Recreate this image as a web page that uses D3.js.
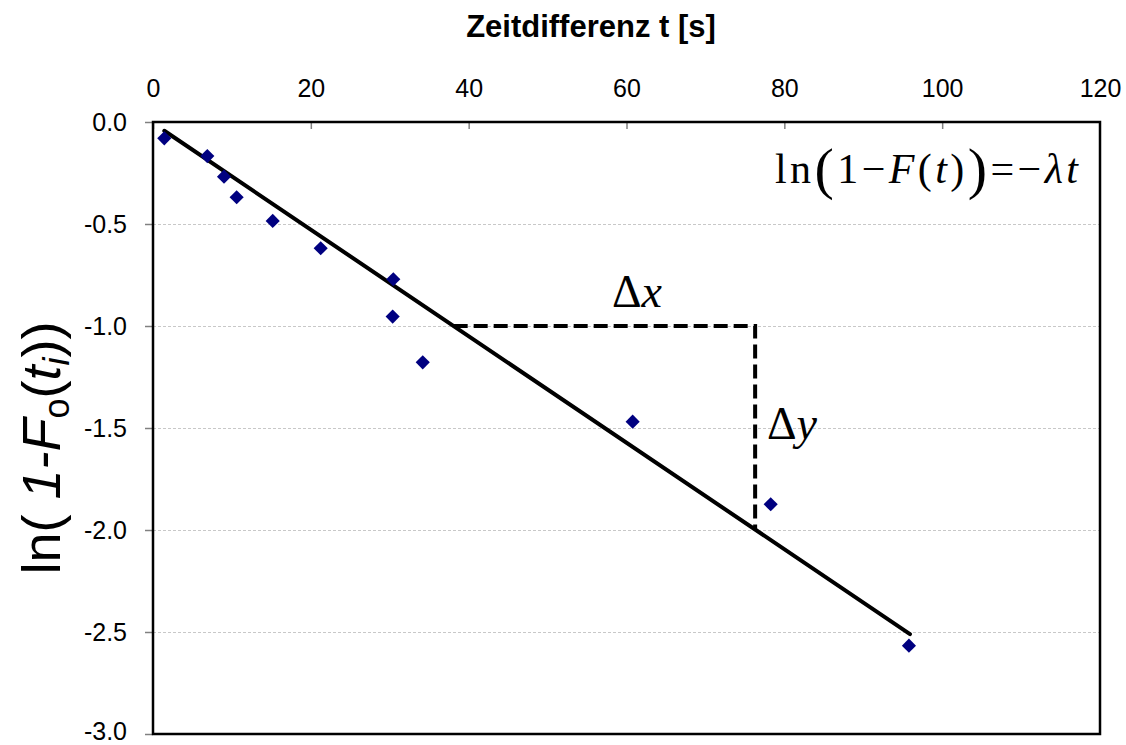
<!DOCTYPE html>
<html>
<head>
<meta charset="utf-8">
<script src="https://cdn.jsdelivr.net/npm/d3@7.9.0/dist/d3.min.js"></script>
<style>
  body { margin: 0; background: #fff; }
  svg { display: block; }
  .axis text { font-family: Arial, "Liberation Sans", sans-serif; font-size: 25px; fill: #000; }
  .axis path { display: none; }
  .axis line { stroke: #808080; stroke-width: 1.5; }
  .grid line { stroke: #c8c8c8; stroke-width: 1; stroke-dasharray: 3 2; }
  .grid path { display: none; }
</style>
</head>
<body>
<svg id="chart" width="1126" height="745"></svg>
<script>
// measured points: time difference t [s] and ln(1 - Fo(ti))
const tValues = [1.43, 6.88, 9.0, 10.6, 15.17, 21.25, 30.45, 30.37, 34.18, 60.78, 78.27, 95.79];
const lnValues = [-0.080, -0.167, -0.268, -0.369, -0.485, -0.619, -0.771, -0.954, -1.178, -1.469, -1.874, -2.567];

// fitted straight line, start and end
const fitT = [1.43, 95.92];
const fitLn = [-0.043, -2.510];

// slope triangle (dashed): corner points
const triT = [38.1, 76.3, 76.3];
const triLn = [-1.0, -1.0, -2.0];

const xTicks = [0, 20, 40, 60, 80, 100, 120];
const yTicks = [0.0, -0.5, -1.0, -1.5, -2.0, -2.5, -3.0];

const svg = d3.select('#chart');
const margin = { top: 122, right: 26, bottom: 11, left: 153 };
const width = 1126 - margin.left - margin.right;
const height = 745 - margin.top - margin.bottom;

const x = d3.scaleLinear().domain([0, 120]).range([0, width]);
const y = d3.scaleLinear().domain([-3, 0]).range([height, 0]);

const g = svg.append('g').attr('transform', `translate(${margin.left},${margin.top})`);

// gridlines
g.append('g')
  .attr('class', 'grid')
  .call(d3.axisLeft(y).tickValues(yTicks.filter((d) => d !== 0 && d !== -3)).tickSize(-width).tickFormat(''));

// x axis on top, ticks pointing inward
g.append('g')
  .attr('class', 'axis')
  .call(d3.axisTop(x).tickValues(xTicks).tickSizeInner(-7).tickSizeOuter(0).tickPadding(25).tickFormat(d3.format('d')));

// y axis, ticks outward (plain hyphen as in the original)
g.append('g')
  .attr('class', 'axis')
  .call(d3.axisLeft(y).tickValues(yTicks).tickSizeInner(8).tickSizeOuter(0).tickPadding(18).tickFormat((d) => d.toFixed(1)));

g.selectAll('.axis .tick line').filter((d) => d === 120).remove();
// keep the lowest label inside the picture
g.selectAll('.axis .tick text').filter((d) => d === -3).attr('dy', '0.22em');

// frame
g.append('rect')
  .attr('width', width)
  .attr('height', height)
  .attr('fill', 'none')
  .attr('stroke', '#000')
  .attr('stroke-width', 2.5);

// fitted line
const fit = fitT.map((t, i) => [t, fitLn[i]]);
g.append('path')
  .datum(fit)
  .attr('d', d3.line().x((d) => x(d[0])).y((d) => y(d[1])))
  .attr('stroke', '#000')
  .attr('stroke-width', 4)
  .attr('stroke-linecap', 'round')
  .attr('fill', 'none');

// dashed slope triangle
const tri = triT.map((t, i) => [t, triLn[i]]);
g.append('path')
  .datum(tri)
  .attr('d', d3.line().x((d) => x(d[0])).y((d) => y(d[1])))
  .attr('stroke', '#000')
  .attr('stroke-width', 4)
  .attr('stroke-dasharray', '14 6')
  .attr('fill', 'none');

// data points as diamonds
const points = tValues.map((t, i) => ({ t: t, v: lnValues[i] }));
const diamond = d3.symbol().type(d3.symbolSquare).size(100);
g.selectAll('.pt')
  .data(points)
  .join('path')
  .attr('class', 'pt')
  .attr('d', diamond)
  .attr('transform', (d) => `translate(${x(d.t)},${y(d.v)}) rotate(45)`)
  .attr('fill', '#000080');

// x axis title
svg.append('text')
  .attr('x', 591)
  .attr('y', 37)
  .attr('text-anchor', 'middle')
  .attr('font-family', 'Arial, "Liberation Sans", sans-serif')
  .attr('font-weight', 'bold')
  .attr('font-size', 31)
  .text('Zeitdifferenz t [s]');

// y axis title
const yl = svg.append('text')
  .attr('transform', 'translate(60,448) rotate(-90)')
  .attr('text-anchor', 'middle')
  .attr('font-family', 'Arial, "Liberation Sans", sans-serif')
  .attr('font-size', 54);
yl.append('tspan').text('ln( ');
yl.append('tspan').attr('font-style', 'italic').text('1-F');
yl.append('tspan').attr('font-size', 36).attr('dy', 9).text('o');
yl.append('tspan').attr('dy', -9).text('(');
yl.append('tspan').attr('font-style', 'italic').text('t');
yl.append('tspan').attr('font-size', 36).attr('font-style', 'italic').attr('dy', 9).text('i');
yl.append('tspan').attr('dy', -9).text('))');

// formula
const serif = '"Liberation Serif", "Times New Roman", serif';
const fx = svg.append('text')
  .attr('x', 775)
  .attr('y', 183)
  .attr('font-family', serif)
  .attr('font-size', 42)
  .attr('textLength', 303)
  .attr('lengthAdjust', 'spacing');
fx.append('tspan').text('ln');
fx.append('tspan').attr('font-size', 58).attr('dy', 5).text('(');
fx.append('tspan').attr('dy', -5).text('1−');
fx.append('tspan').attr('font-style', 'italic').text('F');
fx.append('tspan').text('(');
fx.append('tspan').attr('font-style', 'italic').text('t');
fx.append('tspan').text(')');
fx.append('tspan').attr('font-size', 58).attr('dy', 5).text(')');
fx.append('tspan').attr('dy', -5).text('=−');
fx.append('tspan').attr('font-style', 'italic').text('λt');

// delta labels
svg.append('text')
  .attr('x', 612)
  .attr('y', 307)
  .attr('font-family', serif)
  .attr('font-size', 46)
  .html('Δ<tspan font-style="italic">x</tspan>');

svg.append('text')
  .attr('x', 767)
  .attr('y', 439)
  .attr('font-family', serif)
  .attr('font-size', 46)
  .html('Δ<tspan font-style="italic">y</tspan>');
</script>
</body>
</html>
